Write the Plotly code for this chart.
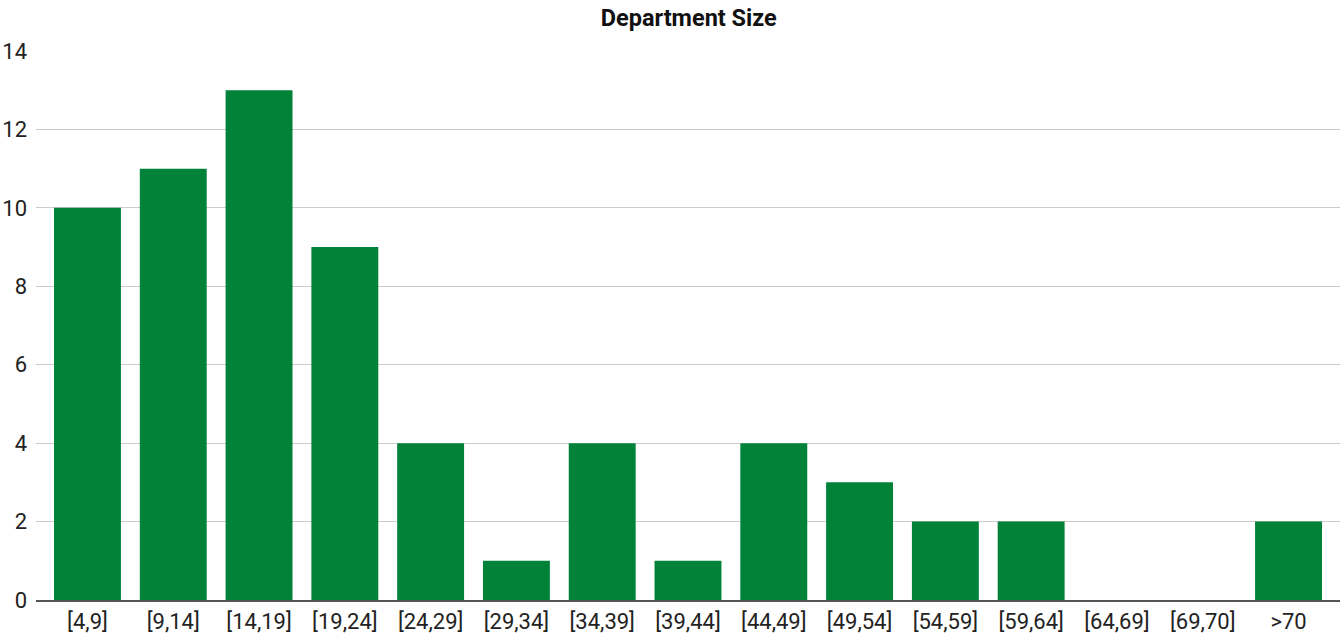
import plotly.graph_objects as go

categories = ["[4,9]", "[9,14]", "[14,19]", "[19,24]", "[24,29]", "[29,34]", "[34,39]",
              "[39,44]", "[44,49]", "[49,54]", "[54,59]", "[59,64]", "[64,69]", "[69,70]", ">70"]
counts = [10, 11, 13, 9, 4, 1, 4, 1, 4, 3, 2, 2, 0, 0, 2]

fig = go.Figure()
fig.add_trace(go.Bar(x=categories, y=counts, marker=dict(color="#008239", line=dict(width=0))))

fig.update_layout(
    width=1340, height=636,
    title=dict(text="<b>Department Size</b>", x=0.514, y=0.972, xanchor="center", yanchor="middle",
               font=dict(family="Roboto", size=23.5, color="#111")),
    font=dict(family="Roboto", size=22, color="#222"),
    plot_bgcolor="white", paper_bgcolor="white",
    margin=dict(l=36, r=0, t=51, b=36),
    bargap=0.22,
    showlegend=False,
)
fig.update_xaxes(range=[-0.6, 14.6], showgrid=False, showline=True, linecolor="#555", linewidth=2,
                 ticks="", ticklabelstandoff=1, tickfont=dict(size=22), automargin=False)
fig.update_yaxes(range=[0, 14], dtick=2, showgrid=True, gridcolor="#ccc", gridwidth=1,
                 zeroline=False, ticks="", ticklabelstandoff=8, tickfont=dict(size=22), automargin=False)

# drop the default page margin so the figure fills the window exactly
fig.write_html("out.html", config={"displayModeBar": False},
               post_script="document.body.style.margin='0';")
